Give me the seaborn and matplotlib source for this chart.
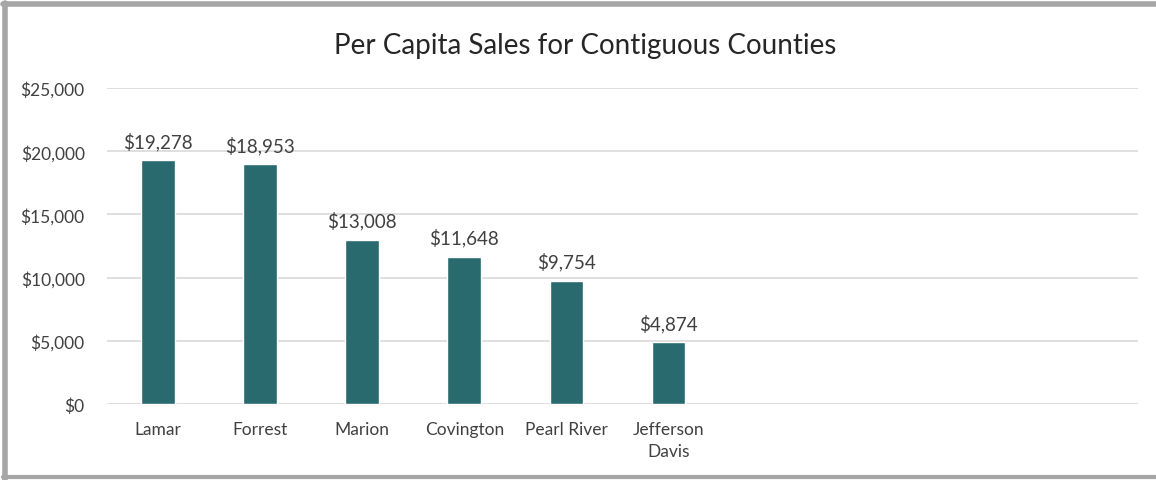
import matplotlib
matplotlib.use("Agg")
import matplotlib.pyplot as plt
import seaborn as sns
import pandas as pd
from matplotlib.lines import Line2D

counties = ["Lamar", "Forrest", "Marion", "Covington", "Pearl River", "Jefferson\nDavis"]
sales = [19278, 18953, 13008, 11648, 9754, 4874]
yticks = [0, 5000, 10000, 15000, 20000, 25000]
title = "Per Capita Sales for Contiguous Counties"

sns.set_style("white")
plt.rcParams['font.family'] = ['Lato', 'DejaVu Sans']

df = pd.DataFrame({"county": counties, "sales": sales})

fig = plt.figure(figsize=(11.56, 4.81), dpi=100)
ax = fig.add_axes([107/1156, 1-405/481, (1138-107)/1156, (405-89)/481])
sns.barplot(data=df, x="county", y="sales", color="#286A6E", saturation=1,
            width=0.33, ax=ax)
ax.set_xlim(-0.5, 9.6)
ax.set_ylim(0, 25000)
ax.set_yticks(yticks)
ax.set_yticklabels([f"${v:,}" for v in yticks], fontsize=12.5, color="#404040")
ax.tick_params(axis="y", length=0, pad=16)
ax.tick_params(axis="x", length=0, pad=12, labelsize=12.5, labelcolor="#404040")
for t in ax.get_xticklabels():
    t.set_linespacing(1.45)
ax.set_xlabel("")
ax.set_ylabel("")
ax.yaxis.grid(True, color="#D9D9D9", linewidth=1.2)
ax.set_axisbelow(True)
for s in ax.spines.values():
    s.set_visible(False)
for i, v in enumerate(sales):
    ax.text(i, v + 800, f"${v:,}", ha="center", va="bottom", fontsize=13.5, color="#404040")

fig.text(0.506, 1-46/481, title, ha="center", va="center", fontsize=20, color="#262626")

# outer frame
gray = "#A6A6A6"
fig.add_artist(Line2D([5/1156, 5/1156], [0, 1-4/481], transform=fig.transFigure, color=gray, linewidth=4))
fig.add_artist(Line2D([3/1156, 1], [1-5/481, 1-5/481], transform=fig.transFigure, color=gray, linewidth=4))
fig.add_artist(Line2D([3/1156, 1], [3/481, 3/481], transform=fig.transFigure, color=gray, linewidth=3))

fig.savefig("out.png", dpi=100)
